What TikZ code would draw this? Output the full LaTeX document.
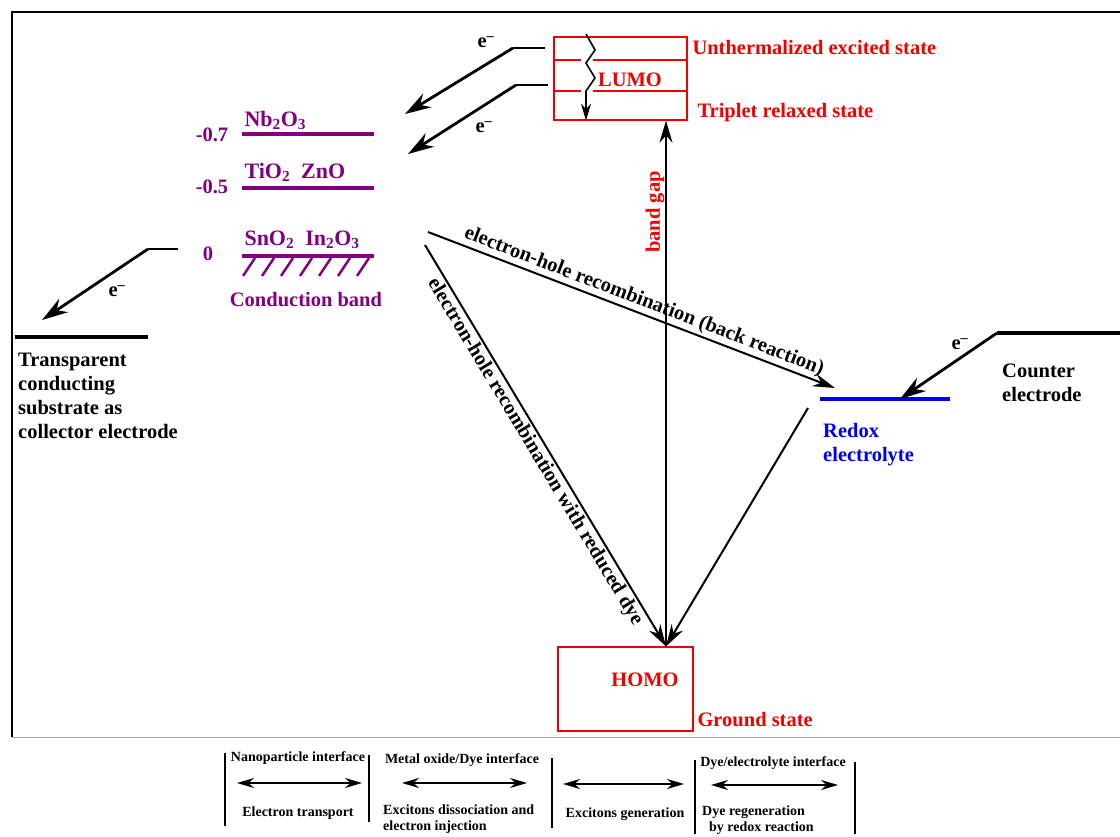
\documentclass[tikz,border=0pt]{standalone}
\usepackage{fontspec}
\setmainfont{Liberation Serif}
\usetikzlibrary{arrows.meta}
\definecolor{oxide}{RGB}{128,0,128}
\definecolor{dyered}{RGB}{240,0,0}
\definecolor{redox}{RGB}{0,0,240}

\tikzset{
  big/.style={font=\bfseries\fontsize{20.5}{24}\selectfont},
  ox/.style={oxide,font=\bfseries\fontsize{22}{24}\selectfont},
  small/.style={font=\bfseries\fontsize{14}{16}\selectfont},
  level/.style={oxide,line width=4.5pt},
  hop/.style={-{Stealth[length=26pt,width=16pt]},line width=2.8pt},
  recomb/.style={-{Stealth[length=22pt,width=13pt]},line width=2pt},
  legarrow/.style={{Stealth[length=17pt,width=10pt]}-{Stealth[length=17pt,width=10pt]},line width=1.8pt},
  bar/.style={line width=2.2pt}
}

\begin{document}
\begin{tikzpicture}[x=1pt,y=-1pt,big,line cap=butt]
\useasboundingbox (0,0) rectangle (1120,837);
\draw[line width=1.3pt] (1120,12) -- (12,12) -- (12,737);
\draw[gray!70,line width=1pt] (12,737) -- (1120,737);

\node[draw=dyered,line width=1.3pt,minimum width=133pt,minimum height=83pt,inner sep=0pt] (lumo) at (620.5,78.5) {};
\draw[dyered,line width=1.3pt] (554,60) -- (581,60) (593,60) -- (687,60);
\draw[dyered,line width=1.3pt] (554,91) -- (581,91) (593,91) -- (687,91);
\node[dyered] (lumolab) at (630,80) {LUMO};
\draw[line width=1.6pt,-{Stealth[length=17pt,width=10pt]}] (586,34) -- (595,50) -- (586,63) -- (595,78) -- (586,91) -- (lumo.south -| 586,0);
\node[dyered,anchor=west] (unth) at (689,47) {Unthermalized excited state};
\node[dyered,anchor=west] (trip) at (694,113) {Triplet relaxed state};

\node[draw=dyered,line width=1.3pt,minimum width=135pt,minimum height=84pt,inner sep=0pt] (homo) at (625.5,689) {};
\node[dyered] (homolab) at (645,680) {HOMO};
\node[dyered,anchor=west] (ground) at (694,720) {Ground state};

\coordinate (gapx) at (666,0);
\coordinate (hit) at (homo.north -| gapx);
\draw[recomb,line width=1.6pt] (hit) -- (lumo.south -| gapx);
\node[dyered,rotate=90] (gaplab) at (655,212) {band gap};

\coordinate (up1) at (545,48);
\coordinate (up1k) at (513,48);
\coordinate (up1t) at (405,114);
\coordinate (up2) at (548,85);
\coordinate (up2k) at (516,85);
\coordinate (up2t) at (408,154);
\draw[line width=2.2pt] (up1) -- (up1k);
\draw[hop] (up1k) -- (up1t);
\node (e1) at (486,42) {e\textsuperscript{–}};
\draw[line width=2.2pt] (up2) -- (up2k);
\draw[hop] (up2k) -- (up2t);
\node (e2) at (484,127) {e\textsuperscript{–}};

\draw[level] (242,134) -- (374,134);
\node[ox,anchor=west] (nb) at (241,120) {Nb\textsubscript{2}O\textsubscript{3}};
\node[oxide] (v07) at (212,135) {-0.7};
\draw[level] (242,188) -- (374,188);
\node[ox,anchor=west] (tio) at (241,172) {TiO\textsubscript{2}\ \ ZnO};
\node[oxide] (v05) at (212,187) {-0.5};
\draw[level] (242,256) -- (374,256);
\node[ox,anchor=west] (sno) at (241,240) {SnO\textsubscript{2}\ \ In\textsubscript{2}O\textsubscript{3}};
\node[oxide] (v0) at (208,254) {0};
\foreach \hx in {255,274,293,312,331,350,369}
  \draw[oxide,line width=2.4pt] (\hx,258) -- (\hx-12,276);
\node[oxide] (cb) at (306,300) {Conduction band};

\coordinate (cstub) at (178,249);
\coordinate (ckink) at (148,249);
\coordinate (ctip) at (42,320);
\draw[line width=2.2pt] (cstub) -- (ckink);
\draw[hop] (ckink) -- (ctip);
\node (e3) at (117,291) {e\textsuperscript{–}};
\draw[line width=4pt] (15,337) -- (148,337);
\node[anchor=north west,align=left,inner sep=0pt] (tco) at (18,353) {Transparent\\conducting\\substrate as\\collector electrode};

\draw[redox,line width=4.5pt] (820,399) -- (950,399);
\coordinate (rhit) at (900,399);
\coordinate (rtop) at (835,388);
\node[redox,anchor=north west,align=left,inner sep=0pt] (redlab) at (823,423) {Redox\\electrolyte};
\draw[line width=4.5pt] (997,333) -- (1120,333);
\coordinate (cek) at (997,333);
\draw[hop] (cek) -- (rhit);
\node (e4) at (960,344) {e\textsuperscript{–}};
\node[anchor=north west,align=left,inner sep=0pt] (celab) at (1002,364) {Counter\\ electrode};

\coordinate (br) at (428,232);
\draw[recomb] (br) -- node[sloped,above,pos=0.52,inner sep=2pt] (brlab) {electron-hole recombination (back reaction)} (rtop);
\coordinate (rd) at (425,245);
\draw[recomb] (rd) -- node[sloped,below,pos=0.5,inner sep=2pt] (rdlab) {electron-hole recombination with reduced dye} (hit);
\coordinate (rx) at (808,408);
\draw[recomb] (rx) -- (hit);

\begin{scope}[small]
\draw[bar] (225,753) -- (225,826);
\draw[bar] (369,755) -- (369,822);
\draw[bar] (552,758) -- (552,828);
\draw[bar] (695,760) -- (695,834);
\draw[bar] (855,762) -- (855,834);
\node (np) at (298,758) {Nanoparticle interface};
\coordinate (a1) at (237,783);
\coordinate (b1) at (362,783);
\draw[legarrow] (a1) -- (b1);
\node (et) at (298,813) {Electron transport};
\node (mo) at (462,760) {Metal oxide/Dye interface};
\coordinate (a2) at (402,783);
\coordinate (b2) at (527,783);
\draw[legarrow] (a2) -- (b2);
\node[anchor=north west,align=left,inner sep=0pt] (ed) at (383,805) {Excitons dissociation and\\electron injection};
\coordinate (a3) at (563,784);
\coordinate (b3) at (684,784);
\draw[legarrow] (a3) -- (b3);
\node (eg) at (625,814) {Excitons generation};
\node (de) at (773,763) {Dye/electrolyte interface};
\coordinate (a4) at (711,785);
\coordinate (b4) at (838,785);
\draw[legarrow] (a4) -- (b4);
\node[anchor=north west,align=left,inner sep=0pt] (dr) at (702,806) {Dye regeneration\\\ \ by redox reaction};
\end{scope}
\end{tikzpicture}
\end{document}
